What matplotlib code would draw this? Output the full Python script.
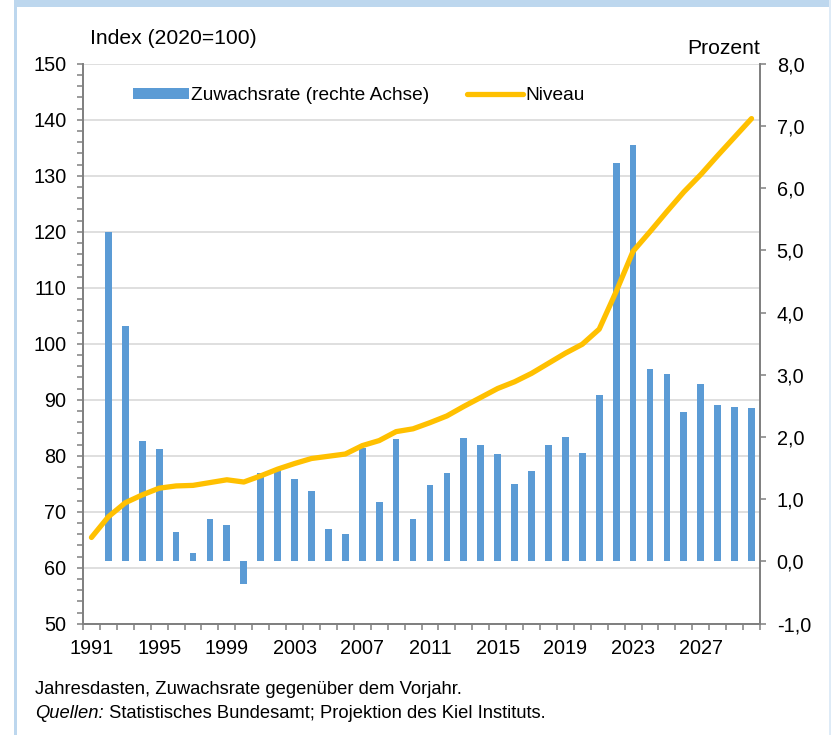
import matplotlib
matplotlib.use("Agg")
import matplotlib.pyplot as plt
from matplotlib.patches import Rectangle
from matplotlib.ticker import FixedLocator, FuncFormatter, MultipleLocator

# Niveau (Index 2020=100), 1991-2030
years = list(range(1991, 2031))
niveau = [65.4, 69.1, 71.6, 73.0, 74.2, 74.6, 74.7, 75.2, 75.7, 75.3,
          76.4, 77.6, 78.6, 79.5, 79.9, 80.3, 81.8, 82.7, 84.3, 84.8,
          85.9, 87.1, 88.8, 90.4, 92.0, 93.2, 94.7, 96.5, 98.3, 99.9,
          102.6, 109.3, 116.5, 120.0, 123.6, 127.1, 130.2, 133.6, 136.9, 140.2]

# Zuwachsrate (Prozent), 1992-2030
rate_years = list(range(1992, 2031))
rate = [5.29, 3.78, 1.94, 1.81, 0.47, 0.14, 0.68, 0.58, -0.36,
        1.42, 1.47, 1.32, 1.13, 0.53, 0.44, 1.82, 0.95, 1.97, 0.68,
        1.23, 1.42, 1.99, 1.88, 1.73, 1.25, 1.46, 1.87, 2.00, 1.74,
        2.68, 6.40, 6.69, 3.09, 3.01, 2.41, 2.85, 2.52, 2.48, 2.46]

label_years = list(range(1991, 2031, 4))

BLUE = "#5b9bd5"
GOLD = "#ffc000"
GRID = "#d9d9d9"
SPINE = "#808080"
FRAME = "#bdd7ee"

plt.rcParams["font.family"] = ["Liberation Sans", "DejaVu Sans"]

fig = plt.figure(figsize=(8.31, 7.35), dpi=100)
ax = fig.add_axes([83 / 831, 1 - 623.7 / 735, (760 - 83) / 831, (623.7 - 63.7) / 735])
axr = ax.twinx()

# left axis: grid + index scale
ax.set_xlim(1990.5, 2030.5)
ax.set_ylim(50, 150)
ax.yaxis.set_major_locator(MultipleLocator(10))
ax.yaxis.set_minor_locator(MultipleLocator(2))
ax.grid(axis="y", which="major", color=GRID, linewidth=1.2)
ax.set_axisbelow(True)
ax.tick_params(axis="y", which="both", direction="out", length=4, width=1.1,
               color=SPINE, labelsize=14.3, pad=8)

ax.xaxis.set_major_locator(FixedLocator(label_years))
ax.xaxis.set_minor_locator(FixedLocator([y - 0.5 for y in years] + [2030.5]))
ax.tick_params(axis="x", which="major", length=0, labelsize=14.3, pad=11)
ax.tick_params(axis="x", which="minor", direction="out", length=4, width=1.1, color=SPINE)

# right axis: bars
axr.set_ylim(-1, 8)
axr.yaxis.set_major_locator(MultipleLocator(1))
axr.yaxis.set_major_formatter(FuncFormatter(lambda v, p: f"{v:.1f}".replace(".", ",")))
axr.tick_params(axis="y", direction="out", length=4, width=1.1, color=SPINE,
                labelsize=14.3, pad=8)

bars = axr.bar(rate_years, rate, width=0.4, color=BLUE, zorder=2,
               label="Zuwachsrate (rechte Achse)")
# line uses the left (index) scale but is drawn above the bars
line, = axr.plot(years, niveau, color=GOLD, linewidth=3.8, solid_capstyle="round",
                 solid_joinstyle="round", transform=ax.transData, zorder=3, label="Niveau")

for a in (ax, axr):
    a.spines["top"].set_visible(False)
    for s in ("left", "right", "bottom"):
        a.spines[s].set_color(SPINE)
        a.spines[s].set_linewidth(1.3)

fig.text(90 / 831, 1 - 39 / 735, "Index (2020=100)", fontsize=15.2, va="center", ha="left")
fig.text(760 / 831, 1 - 48 / 735, "Prozent", fontsize=15.2, va="center", ha="right")

fig.legend(handles=[bars, line], loc="center left", bbox_to_anchor=(133 / 831, 1 - 96 / 735),
           ncol=2, frameon=False, fontsize=13.8, borderpad=0, borderaxespad=0,
           handlelength=2.9, handleheight=0.55, handletextpad=0.12, columnspacing=2.0)

# footnote
t1 = fig.text(35 / 831, 1 - 713 / 735, "Quellen:", fontsize=13.2, style="italic", va="center")
ax.annotate(" Statistisches Bundesamt; Projektion des Kiel Instituts.", xy=(1, 0.5),
            xycoords=t1, va="center", ha="left", fontsize=13.2, annotation_clip=False)
fig.text(35 / 831, 1 - 690 / 735, "Jahresdasten, Zuwachsrate gegenüber dem Vorjahr.",
         fontsize=13.2, va="center")

# light blue frame
fig.add_artist(Rectangle((14 / 831, 1 - 7 / 735), 1, 7 / 735, transform=fig.transFigure,
                         color=FRAME, lw=0))
fig.add_artist(Rectangle((14 / 831, 0), 2.6 / 831, 1, transform=fig.transFigure,
                         color=FRAME, lw=0))
fig.add_artist(Rectangle((829 / 831, 0), 2 / 831, 1, transform=fig.transFigure,
                         color="#deebf7", lw=0))

fig.savefig("out.png", dpi=100)
